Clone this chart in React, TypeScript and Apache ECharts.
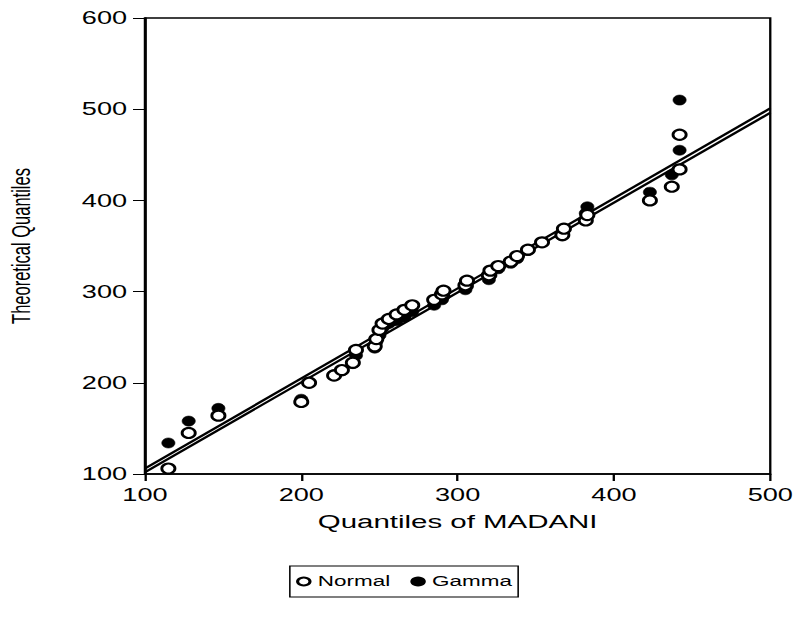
import React, { useEffect, useRef } from "react";
import * as echarts from "echarts";

// Observed quantiles of MADANI (shared x values)
const madaniQuantiles = [115, 128, 147, 200, 205, 221, 226, 233, 235, 247, 248, 250, 252, 256, 261, 266, 271, 285, 290, 291, 305, 306, 320, 321, 326, 334, 338, 345, 354, 367, 368, 382, 383, 423, 437, 442, 442];
// Theoretical quantiles – Normal
const normalQuantiles = [106, 145, 164, 179, 200, 208, 214, 222, 236, 240, 248, 258, 265, 270, 275, 280, 285, 291, 297, 301, 307, 312, 318, 323, 328, 333, 339, 346, 354, 362, 369, 378, 384, 400, 415, 434, 472];
// Theoretical quantiles – Gamma
const gammaQuantiles = [134, 158, 172, 182, 201, 209, 213, 221, 230, 238, 245, 252, 260, 265, 268, 272, 278, 285, 291, 295, 302, 306, 313, 318, 325, 331, 336, 345, 354, 361, 369, 386, 393, 409, 428, 455, 510];
// Reference lines (endpoints)
const normalLine = [[100, 102], [500, 496]];
const gammaLine = [[100, 106], [500, 501]];
const xTicks = [100, 500, 100]; // min, max, interval
const yTicks = [100, 600, 100];

const S = 1.55; // horizontal stretch of the original picture
const W = 796 / S;
const FONT = "'Liberation Sans', Arial, sans-serif";

export default function App() {
  const ref = useRef<HTMLDivElement>(null);
  useEffect(() => {
    if (!ref.current) return;
    const chart = echarts.init(ref.current, undefined, { renderer: "svg" });
    const normalData = madaniQuantiles.map((x, i) => [x, normalQuantiles[i]]);
    const gammaData = madaniQuantiles.map((x, i) => [x, gammaQuantiles[i]]);
    chart.setOption({
      animation: false,
      backgroundColor: "#fff",
      grid: {
        left: 93.5,
        right: W - 496.5,
        top: 18,
        bottom: 152,
        show: true,
        containLabel: false,
        outerBoundsMode: "none",
        borderColor: "#000",
        borderWidth: 1.5,
      },
      legend: {
        data: ["Normal", "Gamma"],
        left: 187,
        top: 566,
        borderColor: "#000",
        borderWidth: 1,
        padding: [8, 4, 8, 4],
        itemGap: 13,
        itemWidth: 8,
        itemHeight: 9,
        textStyle: { color: "#000", fontSize: 14.5, fontFamily: FONT },
      },
      xAxis: {
        type: "value",
        min: xTicks[0],
        max: xTicks[1],
        interval: xTicks[2],
        name: "Quantiles of MADANI",
        nameLocation: "middle",
        nameGap: 38,
        nameTextStyle: { color: "#000", fontSize: 19, fontFamily: FONT },
        axisLine: { show: true, lineStyle: { color: "#000", width: 1.5 } },
        axisTick: { show: true, length: 7, lineStyle: { color: "#000", width: 1.5 } },
        axisLabel: { color: "#000", fontSize: 17.5, fontFamily: FONT, margin: 12 },
        splitLine: { show: false },
      },
      yAxis: {
        type: "value",
        min: yTicks[0],
        max: yTicks[1],
        interval: yTicks[2],
        name: "Theoretical Quantiles",
        nameLocation: "middle",
        nameRotate: 90,
        nameGap: 71,
        nameTextStyle: { color: "#000", fontSize: 16.5, fontFamily: FONT },
        axisLine: { show: true, lineStyle: { color: "#000", width: 1.5 } },
        axisTick: { show: true, length: 7.7, lineStyle: { color: "#000", width: 1 } },
        axisLabel: { color: "#000", fontSize: 17.5, fontFamily: FONT, margin: 11.5 },
        splitLine: { show: false },
      },
      series: [
        {
          name: "lineNormal",
          type: "line",
          data: normalLine,
          symbol: "none",
          silent: true,
          z: 1,
          lineStyle: { color: "#000", width: 2 },
        },
        {
          name: "lineGamma",
          type: "line",
          data: gammaLine,
          symbol: "none",
          silent: true,
          z: 1,
          lineStyle: { color: "#000", width: 2 },
        },
        {
          name: "Gamma",
          type: "scatter",
          data: gammaData,
          symbol: "circle",
          symbolSize: [8.5, 10],
          z: 2,
          itemStyle: { color: "#000", borderColor: "#000", borderWidth: 0.5, opacity: 1 },
        },
        {
          name: "Normal",
          type: "scatter",
          data: normalData,
          symbol: "circle",
          symbolSize: [8.5, 10],
          z: 3,
          itemStyle: { color: "#fff", borderColor: "#000", borderWidth: 2, opacity: 1 },
        },
      ],
    });
    return () => chart.dispose();
  }, []);
  return (
    <div
      ref={ref}
      style={{
        position: "fixed",
        left: 0,
        top: 0,
        width: W,
        height: 626,
        transform: `scaleX(${S})`,
        transformOrigin: "0 0",
        background: "#fff",
      }}
    />
  );
}
